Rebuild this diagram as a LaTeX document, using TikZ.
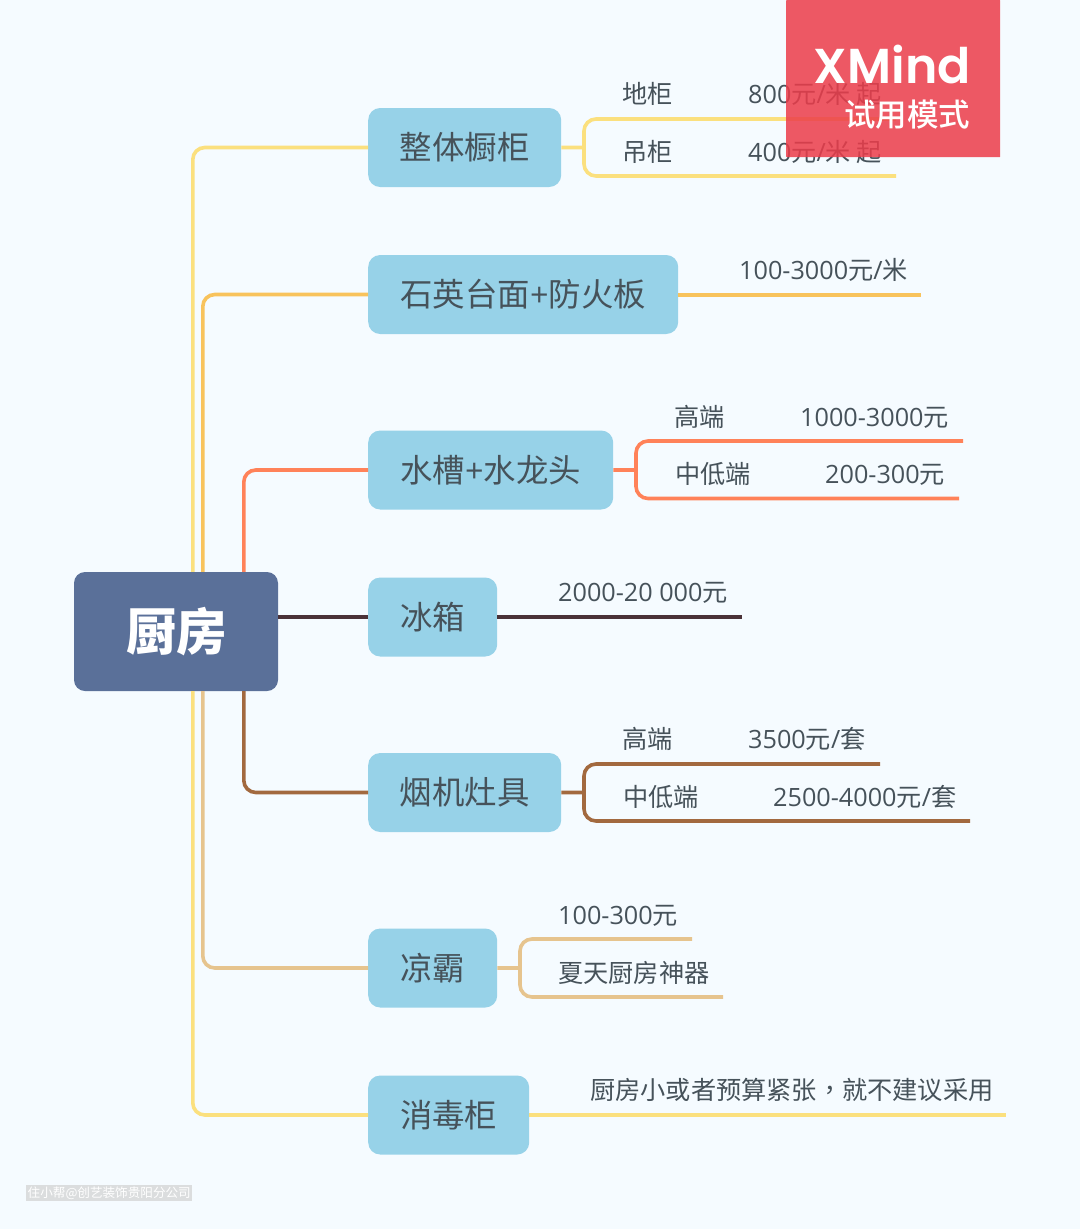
\documentclass[tikz,border=0pt]{standalone}
\usepackage{fontspec}
\setmainfont{Open Sans}
\newfontfamily\zh{Noto Sans CJK SC}
\newfontfamily\zhtc{Noto Sans CJK TC}
\newfontfamily\zhblack{Noto Sans CJK SC Black}
\newfontfamily\zhmed{Noto Sans CJK SC Medium}
\newfontfamily\logofont{Poppins SemiBold}
\definecolor{bgc}{HTML}{F5FBFF}
\definecolor{topicc}{HTML}{97D2E8}
\definecolor{rootc}{HTML}{5A7099}
\definecolor{txtc}{HTML}{46525A}
\definecolor{cyellow}{HTML}{FBE07E}
\definecolor{corange}{HTML}{F8C35C}
\definecolor{ccoral}{HTML}{FF8259}
\definecolor{cdark}{HTML}{4A3238}
\definecolor{cbrown}{HTML}{A2693F}
\definecolor{ctan}{HTML}{E6C48E}
\definecolor{markc}{HTML}{EC3C4A}
\newcommand{\Z}[1]{{\zh #1}}
\newcommand{\T}[1]{\raisebox{-1pt}{#1}}
\newcommand{\leafgap}[2]{\makebox[#1pt][l]{\Z{#2}}}
\tikzset{
  rootbox/.style={rounded corners=11pt,fill=rootc,text=white,minimum width=204pt,minimum height=119pt,inner sep=0pt,font=\zhblack\fontsize{50.5}{51}\selectfont},
  topicbox/.style={rounded corners=12pt,fill=topicc,text=txtc,anchor=west,minimum height=79pt,inner sep=0pt,font=\fontsize{32.4}{33}\selectfont},
  leaftext/.style={anchor=base west,inner sep=0pt,text=txtc,font=\fontsize{25.2}{26}\selectfont},
  conn/.style={line width=3.6pt,rounded corners=12pt},
  markbox/.style={fill=markc,fill opacity=.85,text opacity=1,inner sep=0pt,anchor=north west,minimum width=214pt,minimum height=157pt,rounded corners=0.5pt},
}
\begin{document}
\begin{tikzpicture}[x=1pt,y=-1pt]
\useasboundingbox[fill=bgc] (0,0) rectangle (1080,1229);
% topics
\node[rootbox] (root) at (176,631.5) {\hspace{1pt}厨房};
\node[topicbox,minimum width=193pt] (n1) at (368,147.5) {\T{\Z{整体橱柜}}};
\node[topicbox,minimum width=310pt] (n2) at (368,294.5) {\T{\Z{石英台面}+\Z{防火板}}};
\node[topicbox,minimum width=245pt] (n3) at (368,470) {\T{\Z{水槽}+\Z{水龙头}}};
\node[topicbox,minimum width=129pt] (n4) at (368,617) {\T{\Z{冰箱}}};
\node[topicbox,minimum width=193pt] (n5) at (368,792.5) {\T{\Z{烟机灶具}}};
\node[topicbox,minimum width=129pt] (n6) at (368,968) {\T{\Z{凉霸}}};
\node[topicbox,minimum width=161pt] (n7) at (368,1115) {\T{\Z{消毒柜}}};
% leaf labels
\node[leaftext] (a1) at (622,103) {\leafgap{126}{地柜}800\Z{元}/\Z{米 起}};
\node[leaftext] (a2) at (622,161) {\leafgap{126}{吊柜}400\Z{元}/\Z{米 起}};
\node[leaftext] (b1) at (739,279) {100-3000\Z{元}/\Z{米}};
\node[leaftext] (c1) at (674.5,426) {\leafgap{125.5}{高端}1000-3000\Z{元}};
\node[leaftext] (c2) at (675,483) {\leafgap{150}{中低端}200-300\Z{元}};
\node[leaftext] (d1) at (558,601) {2000-20 000\Z{元}};
\node[leaftext] (e1) at (622,748) {\leafgap{126}{高端}3500\Z{元}/\Z{套}};
\node[leaftext] (e2) at (623,806) {\leafgap{150}{中低端}2500-4000\Z{元}/\Z{套}};
\node[leaftext] (f1) at (558,924) {100-300\Z{元}};
\node[leaftext] (f2) at (558,982) {\Z{夏天厨房神器}};
\node[leaftext] (g1) at (590,1099) {\Z{厨房小或者预算紧张}{\zhtc ，}\Z{就不建议采用}};
% free ends
\coordinate (fa) at (584,147.5); \coordinate (ea1) at (896,119); \coordinate (ea2) at (896,176);
\coordinate (eb) at (921,295);
\coordinate (fc) at (636,470); \coordinate (ec1) at (963,441); \coordinate (ec2) at (959,498.5);
\coordinate (ed) at (742,617);
\coordinate (fe) at (584,792.5); \coordinate (ee1) at (880,764); \coordinate (ee2) at (970,821);
\coordinate (ff) at (520,968); \coordinate (ef1) at (692,939); \coordinate (ef2) at (723,997);
\coordinate (eg) at (1006,1115);
% root connectors
\draw[conn,cyellow] ([xshift=119pt]root.north west) |- (n1.west);
\draw[conn,corange] ([xshift=129pt]root.north west) |- (n2.west);
\draw[conn,ccoral] ([xshift=170pt]root.north west) |- (n3.west);
\draw[conn,cdark] (root.east |- n4.west) -- (n4.west);
\draw[conn,cbrown] ([xshift=170pt]root.south west) |- (n5.west);
\draw[conn,ctan] ([xshift=129pt]root.south west) |- (n6.west);
\draw[conn,cyellow] ([xshift=119pt]root.south west) |- (n7.west);
% leaf connectors
\draw[conn,cyellow] (n1.east) -- (fa) (ea1) -| (fa) |- (ea2);
\draw[conn,corange] (n2.east |- eb) -- (eb);
\draw[conn,ccoral] (n3.east) -- (fc) (ec1) -| (fc) |- (ec2);
\draw[conn,cdark] (n4.east) -- (ed);
\draw[conn,cbrown] (n5.east) -- (fe) (ee1) -| (fe) |- (ee2);
\draw[conn,ctan] (n6.east) -- (ff) (ef1) -| (ff) |- (ef2);
\draw[conn,cyellow] (n7.east) -- (eg);
% trial mark
\node[markbox] (mark) at (786,0) {};
\node[anchor=base east,inner sep=0pt,text=white,font=\logofont\fontsize{49}{50}\selectfont] (m1) at (971,83) {XMind};
\node[anchor=base east,inner sep=0pt,text=white,font=\zhmed\fontsize{31.5}{32}\selectfont] (m2) at (970.5,126) {试用模式};
% watermark
\node[anchor=west,inner sep=1.5pt,fill=black!18,fill opacity=.7,text opacity=1,text=white,font=\zh\fontsize{12.6}{13}\selectfont] (wm) at (26,1193) {住小帮@创艺装饰贵阳分公司};
\end{tikzpicture}
\end{document}
